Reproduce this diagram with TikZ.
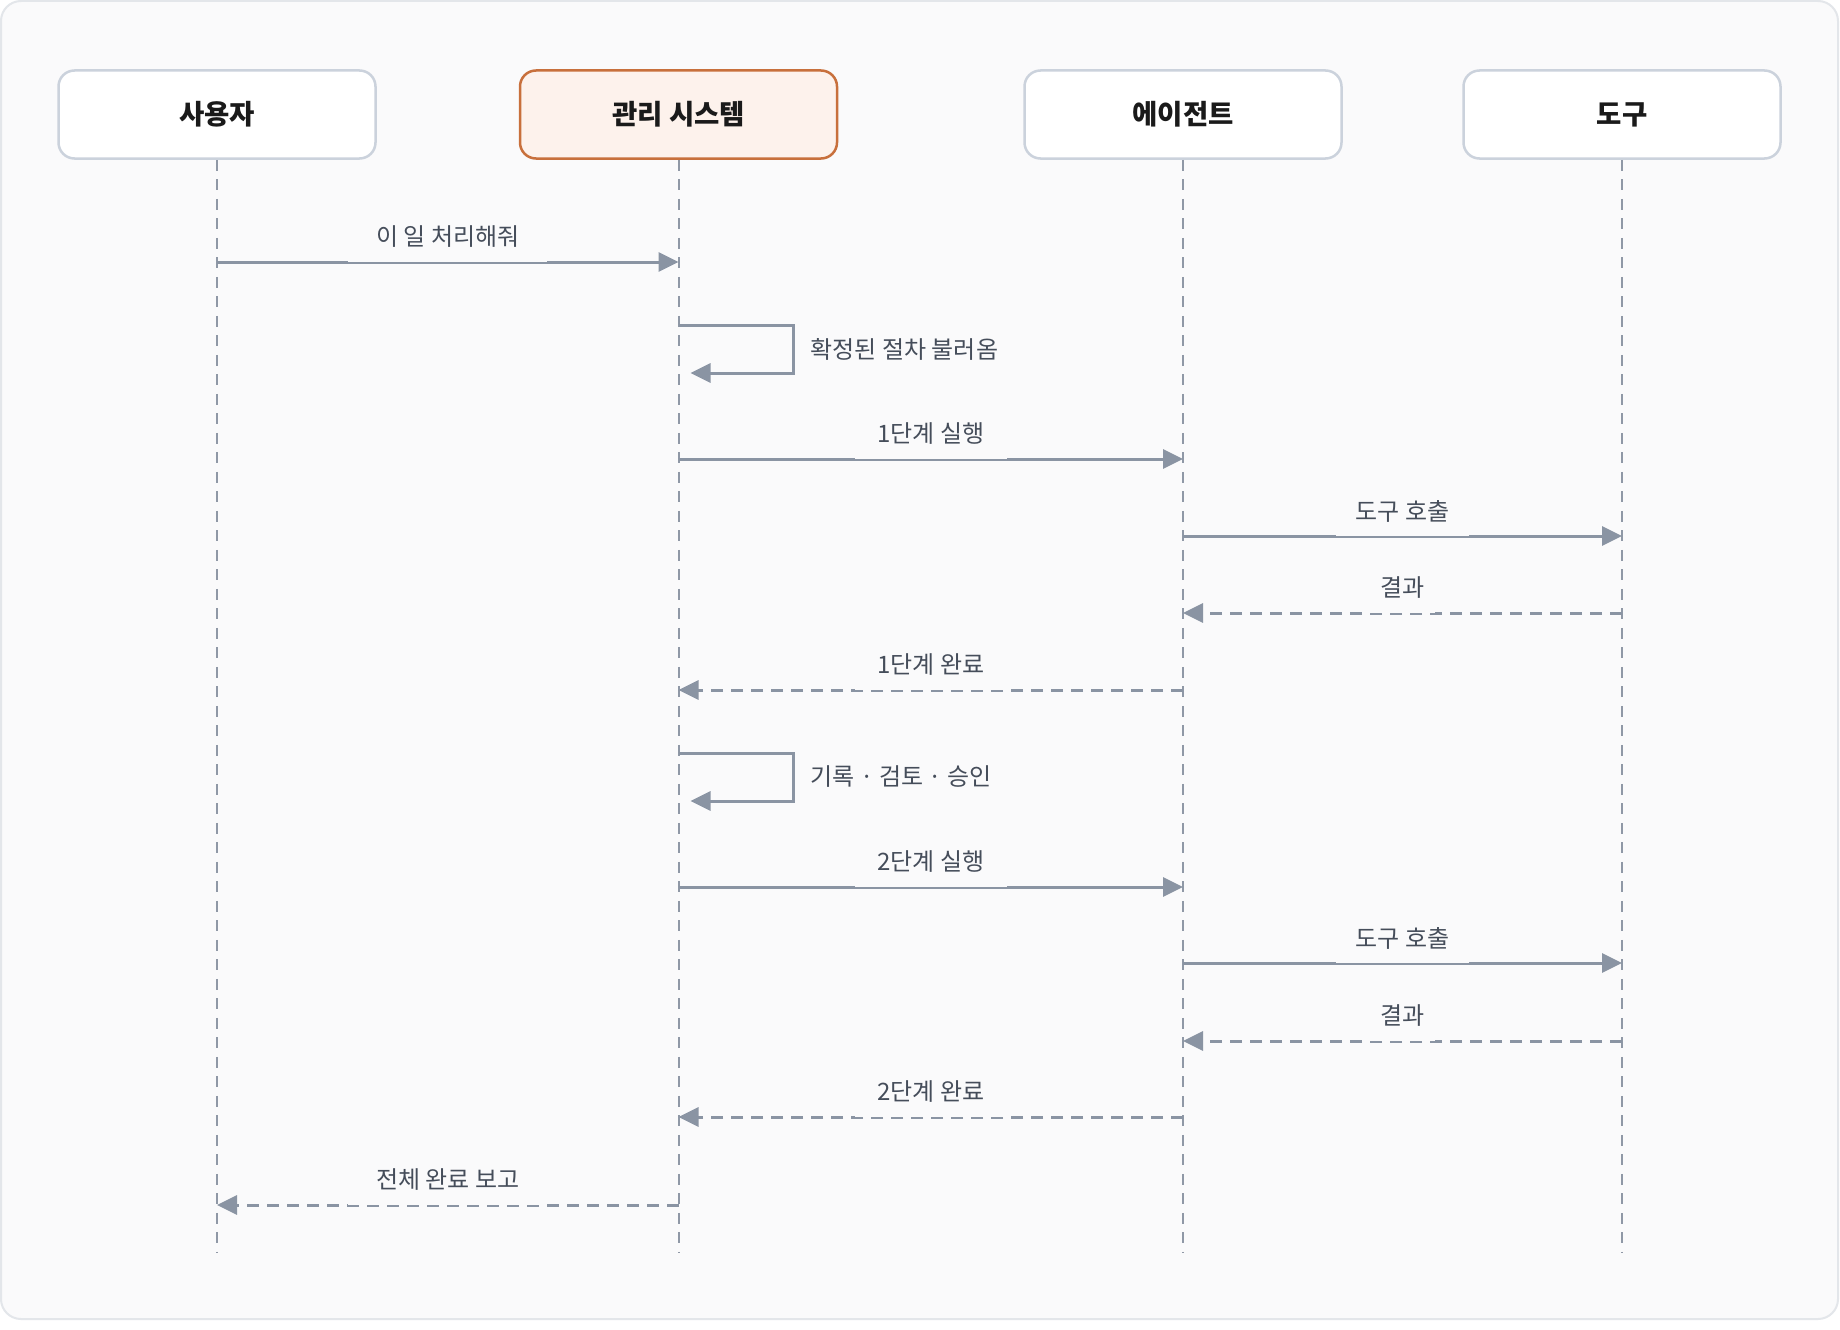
\documentclass[tikz,border=0pt]{standalone}
\usepackage{fontspec}
\setmainfont{Noto Sans CJK KR}
\usetikzlibrary{arrows.meta,calc}
\definecolor{bgc}{HTML}{FAFAFB}
\definecolor{framec}{HTML}{E3E6EA}
\definecolor{boxstroke}{HTML}{CBD2DC}
\definecolor{hlfill}{HTML}{FDF2EC}
\definecolor{hlstroke}{HTML}{C8703C}
\definecolor{arrowc}{HTML}{8A94A3}
\definecolor{lifec}{HTML}{8F98A6}
\definecolor{textc}{HTML}{454D5A}
\definecolor{headc}{HTML}{1A1A1A}
\newcommand\seqmsg[7]{%
  \coordinate (#1a) at (#2.south |- 0,#4);
  \coordinate (#1b) at (#3.south |- 0,#4);
  \draw[#5] (#1a) -- (#1b);
  \path (#1a) -- (#1b) coordinate[midway] (#1m);
  \fill[bgc] ([xshift=-#7/2]#1m) rectangle ([xshift=#7/2,yshift=36]#1m);
  \node[lbl] (#1t) at ([yshift=25]#1m) {#6};
}
\newcommand\seqself[5]{%
  \coordinate (#1a) at (#2.south |- 0,#3);
  \coordinate (#1b) at (#2.south |- 0,#4);
  \draw[msgsolid] (#1a) -- ++(115,0) |- ([xshift=12]#1b);
  \node[lbl,anchor=west] (#1t) at ($(#1a)!0.5!(#1b)+(132,0)$) {#5};
}
\begin{document}
\begin{tikzpicture}[x=1pt,y=-1pt,
  actor/.style={draw=boxstroke,fill=white,line width=2.5pt,rounded corners=16pt,
    minimum width=317pt,minimum height=88pt,inner sep=0pt,
    font=\fontsize{27.5}{32}\selectfont\bfseries,text=headc},
  hlactor/.style={actor,draw=hlstroke,fill=hlfill},
  life/.style={draw=lifec,line width=2pt,dash pattern=on 11pt off 8.5pt},
  msgsolid/.style={draw=arrowc,line width=3pt,-{Triangle[length=20pt,width=19pt]}},
  msgdash/.style={msgsolid,dash pattern=on 12pt off 8pt},
  lbl/.style={font=\fontsize{24}{28}\selectfont,text=textc,inner sep=0pt}]
\useasboundingbox (0,0) rectangle (1840,1330);
\fill[white] (0,0) rectangle (1840,1330);
\draw[fill=bgc,draw=framec,line width=2pt,rounded corners=20pt] (1,1) rectangle (1838,1319);

\node[actor] (user) at (217,114.5) {사용자};
\node[hlactor] (sys) at (678.5,114.5) {관리 시스템};
\node[actor] (agent) at (1183,114.5) {에이전트};
\node[actor] (tool) at (1622,114.5) {도구};

\foreach \n in {user,sys,agent,tool}{
  \coordinate (\n end) at (\n.south |- 0,1253);
  \draw[life] (\n.south) -- (\n end);
}

\seqmsg{m1}{user}{sys}{262}{msgsolid}{이 일 처리해줘}{199}
\seqself{s1}{sys}{325}{373}{확정된 절차 불러옴}
\seqmsg{m2}{sys}{agent}{459}{msgsolid}{1단계 실행}{152}
\seqmsg{m3}{agent}{tool}{536}{msgsolid}{도구 호출}{133}
\seqmsg{m4}{tool}{agent}{613}{msgdash}{결과}{65}
\seqmsg{m5}{agent}{sys}{690}{msgdash}{1단계 완료}{152}
\seqself{s2}{sys}{753}{801}{기록 · 검토 · 승인}
\seqmsg{m6}{sys}{agent}{887}{msgsolid}{2단계 실행}{152}
\seqmsg{m7}{agent}{tool}{963}{msgsolid}{도구 호출}{133}
\seqmsg{m8}{tool}{agent}{1041}{msgdash}{결과}{65}
\seqmsg{m9}{agent}{sys}{1117}{msgdash}{2단계 완료}{152}
\seqmsg{m10}{sys}{user}{1205}{msgdash}{전체 완료 보고}{199}
\end{tikzpicture}
\end{document}
